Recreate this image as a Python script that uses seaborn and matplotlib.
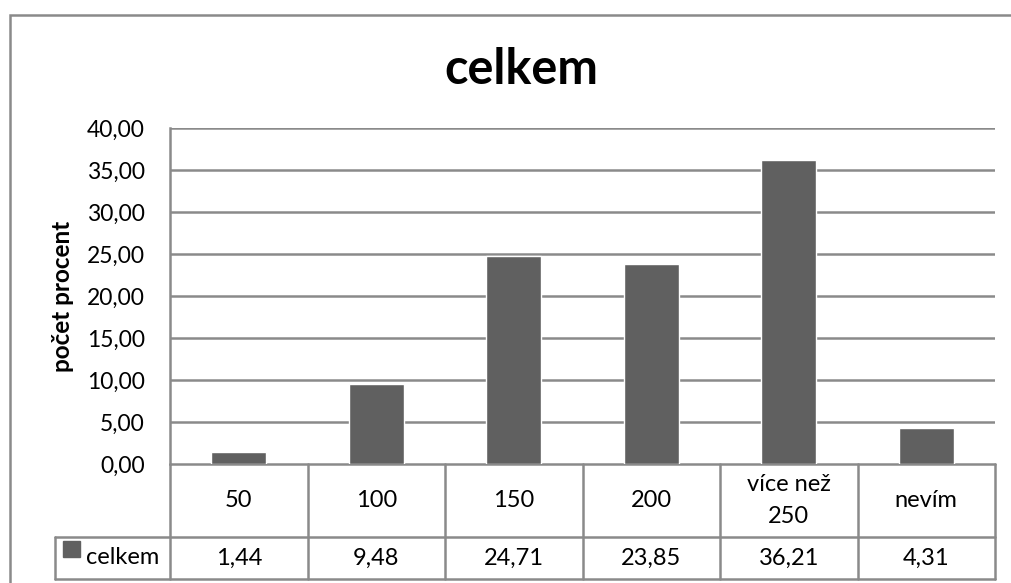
import matplotlib
matplotlib.use("Agg")
import matplotlib.pyplot as plt
import seaborn as sns
import pandas as pd
from matplotlib.patches import Rectangle
from matplotlib.transforms import blended_transform_factory

# chart data
categories = ["50", "100", "150", "200", "více než\n250", "nevím"]
values = [1.44, 9.48, 24.71, 23.85, 36.21, 4.31]
series_name = "celkem"
y_ticks = [0, 5, 10, 15, 20, 25, 30, 35, 40]

W, H = 1011, 583
bar_color = "#606060"
line_color = "#8a8a8a"

sns.set_style("white")
plt.rcParams["font.family"] = ["Lato", "DejaVu Sans"]
plt.rcParams["text.color"] = "black"
plt.rcParams["ytick.color"] = "black"

fig = plt.figure(figsize=(W / 100, H / 100), dpi=100)


def fx(px):
    return px / W


def fy(py):
    return 1 - py / H


# outer chart frame (runs off the right and bottom edges)
fig.patches.append(Rectangle((fx(10), fy(600)), fx(1030) - fx(10), fy(15) - fy(600),
                             transform=fig.transFigure, fill=False,
                             edgecolor=line_color, linewidth=1.8))

left, right, top, zero = 170, 995, 128, 464
ax = fig.add_axes([fx(left), fy(zero), fx(right) - fx(left), fy(top) - fy(zero)])

df = pd.DataFrame({"cat": categories, "val": values})
sns.barplot(data=df, x="cat", y="val", color=bar_color, width=0.4,
            saturation=1, ax=ax, zorder=3)

ax.set_xlim(-0.5, len(categories) - 0.5)
ax.set_ylim(0, 40)
ax.set_yticks(y_ticks)
ax.set_yticklabels([f"{t:.2f}".replace(".", ",") for t in y_ticks], fontsize=16.5)
ax.tick_params(axis="y", length=0, pad=18)
ax.set_xticks([])
ax.set_xlabel("")
ax.set_ylabel("")
for t in y_ticks[1:]:
    ax.axhline(t, color=line_color, linewidth=1.8, zorder=1)
for s in ["top", "right", "bottom"]:
    ax.spines[s].set_visible(False)
ax.spines["left"].set_color(line_color)
ax.spines["left"].set_linewidth(1.8)

# data table below the axis
row1, row2 = 537, 579
tr = blended_transform_factory(ax.transData, fig.transFigure)
n = len(categories)
lkw = dict(color=line_color, linewidth=1.8, clip_on=False)
ax.plot([-0.5, n - 0.5], [fy(zero), fy(zero)], transform=tr, **lkw)
for i in range(n + 1):
    ax.plot([i - 0.5, i - 0.5], [fy(zero), fy(row2)], transform=tr, **lkw)
ax.add_line(plt.Line2D([fx(55), fx(right)], [fy(row1), fy(row1)],
                       transform=fig.transFigure, **lkw))
ax.add_line(plt.Line2D([fx(55), fx(right)], [fy(row2), fy(row2)],
                       transform=fig.transFigure, **lkw))
ax.add_line(plt.Line2D([fx(55), fx(55)], [fy(row1), fy(row2)],
                       transform=fig.transFigure, **lkw))

for i, (c, v) in enumerate(zip(categories, values)):
    ax.text(i, fy((zero + row1) / 2), c, transform=tr, ha="center", va="center",
            fontsize=17, linespacing=1.6)
    ax.text(i, fy((row1 + row2) / 2), f"{v:.2f}".replace(".", ","), transform=tr,
            ha="center", va="center", fontsize=17)

# legend key inside the table
fig.patches.append(Rectangle((fx(63), fy(557)), fx(80) - fx(63), fy(541) - fy(557),
                             transform=fig.transFigure, color=bar_color))
fig.text(fx(86), fy((row1 + row2) / 2), series_name, ha="left", va="center", fontsize=17)

fig.text(fx(521), fy(70), "celkem", ha="center", va="center", fontsize=35,
         fontweight="bold")
fig.text(fx(62), fy(296), "počet procent", ha="center", va="center", rotation=90,
         fontsize=17.5, fontweight="bold")

fig.savefig("out.png", dpi=100)
